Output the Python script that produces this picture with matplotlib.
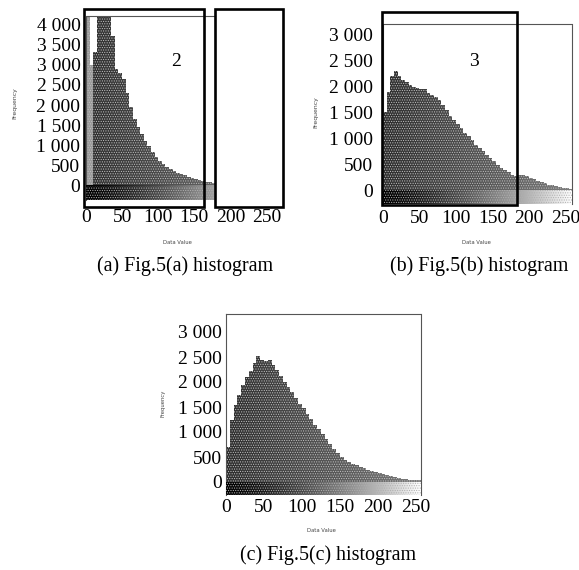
import numpy as np
import matplotlib
matplotlib.use("Agg")
import matplotlib.pyplot as plt
from matplotlib.patches import Rectangle

plt.rcParams['font.family'] = ['Liberation Serif', 'DejaVu Serif']
plt.rcParams['hatch.linewidth'] = 0.5

W, H = 579, 570

freq_a = [4198, 3000, 3300, 4198, 4198, 4198, 4198, 3700, 2900, 2780, 2650, 2300, 1950, 1650, 1450, 1280,
          1120, 980, 850, 720, 620, 540, 480, 420, 370, 330, 290, 260, 225, 200, 170, 140,
          115, 100, 90, 80, 70, 60, 50, 45, 40]
freq_b = [1500, 1900, 2200, 2300, 2200, 2130, 2080, 2040, 2000, 1970, 1950, 1950, 1880, 1840, 1800, 1740,
          1640, 1540, 1440, 1350, 1270, 1190, 1110, 1040, 960, 880, 810, 750, 680, 620, 560, 480,
          420, 380, 340, 300, 280, 290, 300, 280, 240, 210, 180, 150, 130, 105, 90, 70, 55, 40, 30, 20]
freq_c = [700, 1250, 1550, 1750, 1950, 2100, 2220, 2380, 2530, 2440, 2420, 2440, 2340, 2240, 2130, 2000,
          1900, 1800, 1680, 1560, 1480, 1370, 1260, 1150, 1060, 960, 860, 760, 670, 590, 500, 440,
          400, 370, 340, 300, 280, 250, 230, 200, 180, 160, 140, 120, 100, 85, 70, 55, 50, 45, 40, 35]
bin_width = 5

x_ticks = [0, 50, 100, 150, 200, 250]
y_ticks_a = [0, 500, 1000, 1500, 2000, 2500, 3000, 3500, 4000]
y_ticks_bc = [0, 500, 1000, 1500, 2000, 2500, 3000]


def fmt(v):
    return f"{v:,}".replace(",", " ")


def shade(x, light_until):
    if x < light_until:
        return '#9a9a9a'
    g = 0.18 + 0.30 * min(x / 255.0, 1.0)
    return (g, g, g)


def panel(px_box, x_lim, y_lim, freq, yticks, xpad, ypad, light_until=0):
    left, right, top, bottom = px_box
    ax = fig.add_axes([left / W, 1 - bottom / H, (right - left) / W, (bottom - top) / H])
    bins = np.arange(len(freq)) * bin_width
    ax.bar(bins, freq, width=bin_width, align='edge',
           color=[shade(b, light_until) for b in bins], linewidth=0,
           hatch='.......', edgecolor='#c0c0c0', zorder=2)
    grad = np.linspace(0, 1, 256).reshape(1, -1) ** 1.3
    ax.imshow(grad, extent=[0, x_lim[1], y_lim[0], 0], cmap='gray', aspect='auto',
              vmin=0, vmax=1, zorder=3)
    ax.bar([0], [y_lim[0]], width=x_lim[1], align='edge', color='none', linewidth=0,
           hatch='.......', edgecolor='#b0b0b0', zorder=4)
    ax.set_xlim(*x_lim)
    ax.set_ylim(*y_lim)
    ax.set_xticks(x_ticks)
    ax.set_xticklabels([fmt(t) for t in x_ticks], fontsize=14)
    ax.set_yticks(yticks)
    ax.set_yticklabels([fmt(t) for t in yticks], fontsize=14)
    ax.tick_params(axis='x', length=0, pad=xpad)
    ax.tick_params(axis='y', length=0, pad=ypad)
    for s in ax.spines.values():
        s.set_linestyle((0, (1, 1)))
        s.set_linewidth(0.8)
        s.set_color('#555555')
    ax.spines['bottom'].set_visible(False)
    return ax


def box(x0, y0, x1, y1, fill='none', z=10):
    fig.add_artist(Rectangle((x0 / W, 1 - y1 / H), (x1 - x0) / W, (y1 - y0) / H,
                             transform=fig.transFigure, facecolor=fill, edgecolor='black',
                             linewidth=1.9, zorder=z))


def label(px, py, s, size, rot=0, color='black', fam=None):
    kw = {'family': fam} if fam else {}
    fig.text(px / W, 1 - py / H, s, fontsize=size, rotation=rot, color=color,
             ha='center', va='center', **kw)


fig = plt.figure(figsize=(W / 100, H / 100), dpi=100)

panel((86, 270, 16, 200), (0, 255), (-346, 4198), freq_a, y_ticks_a, 6.5, 4, light_until=10)
panel((383, 572, 24, 204), (0, 259), (-270, 3210), freq_b, y_ticks_bc, 4.5, 7)
panel((226, 421, 314, 495), (0, 257), (-260, 3360), freq_c, y_ticks_bc, 3, 3)

box(215, 9, 283, 207, fill='white', z=9)
box(84, 9, 204, 207)
box(382, 12, 517, 205)

label(176, 62, "2", 14)
label(242, 62, "1", 14)
label(474, 61, "3", 14)

label(185, 266, "(a) Fig.5(a) histogram", 14.4)
label(479, 266, "(b) Fig.5(b) histogram", 14.4)
label(328, 555, "(c) Fig.5(c) histogram", 14.4)

grey = '#444444'
label(177, 243, "Data Value", 3.8, color=grey, fam='DejaVu Sans')
label(476, 242, "Data Value", 3.8, color=grey, fam='DejaVu Sans')
label(321, 530, "Data Value", 3.8, color=grey, fam='DejaVu Sans')
label(15, 103, "Frequency", 4.4, rot=90, color=grey, fam='DejaVu Sans')
label(316, 112, "Frequency", 4.4, rot=90, color=grey, fam='DejaVu Sans')
label(163, 403, "Frequency", 3.8, rot=90, color=grey, fam='DejaVu Sans')

fig.savefig("out.png", dpi=100)
